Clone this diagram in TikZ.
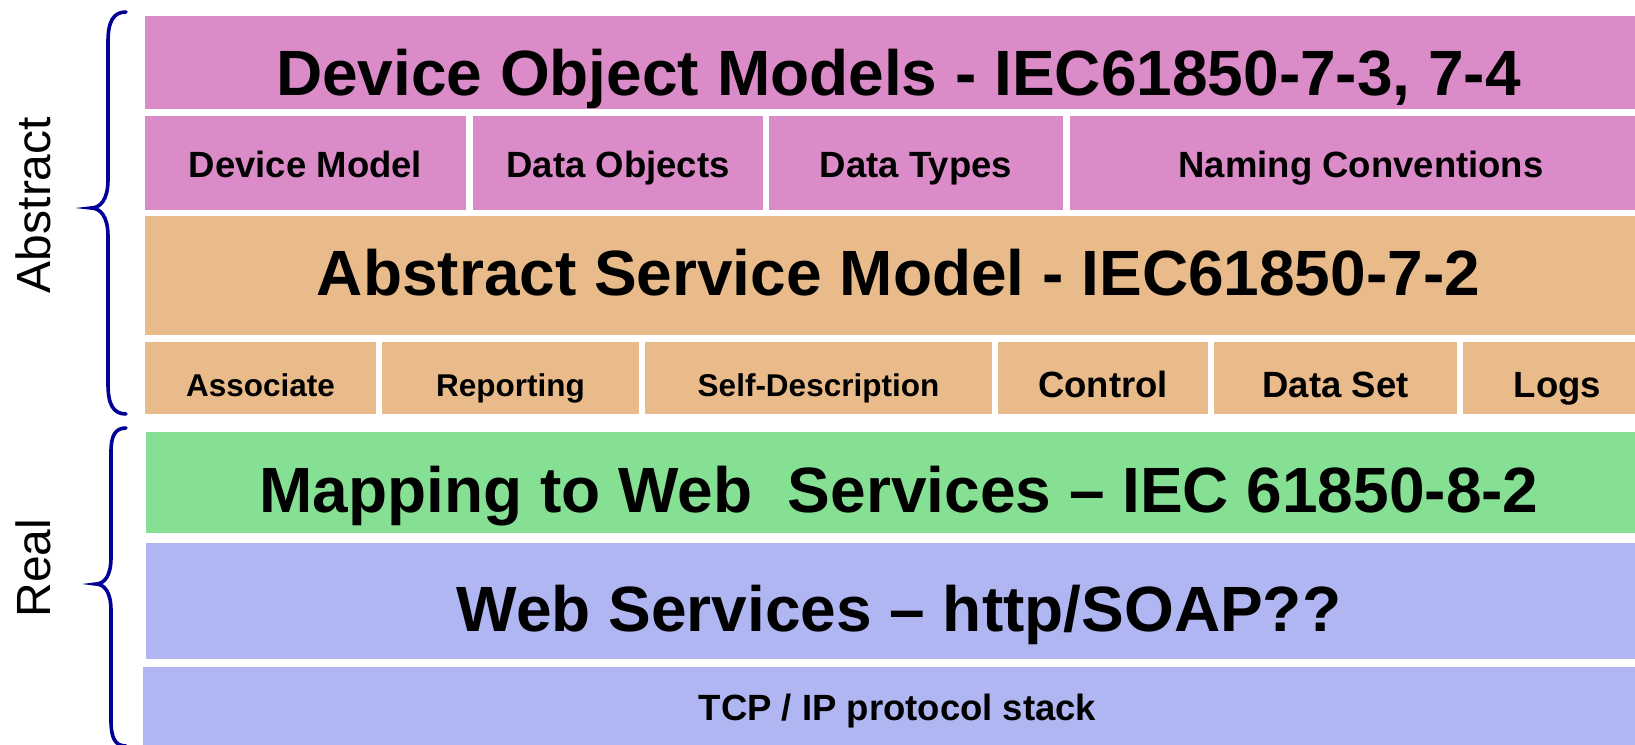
\documentclass[tikz,border=0pt]{standalone}
\usepackage{fontspec}
\setmainfont{Liberation Sans}
\definecolor{pinkc}{RGB}{219,139,200}
\definecolor{orangec}{RGB}{233,187,138}
\definecolor{greenc}{RGB}{134,224,148}
\definecolor{bluec}{RGB}{176,182,242}
\definecolor{bracec}{RGB}{0,0,150}
\begin{document}
\begin{tikzpicture}[x=1pt,y=-1pt,
  layer/.style={draw=none, inner sep=0pt, outer sep=0pt, anchor=north west},
  bigtxt/.style={anchor=base, inner sep=0pt, font=\fontsize{64}{70}\selectfont\bfseries},
  midtxt/.style={anchor=base, inner sep=0pt, font=\fontsize{36.5}{40}\selectfont\bfseries},
  smalltxt/.style={anchor=base, inner sep=0pt, font=\fontsize{31.5}{36}\selectfont\bfseries},
  sidetxt/.style={anchor=base, rotate=90, inner sep=0pt, font=\fontsize{48}{52}\selectfont},
  bracestyle/.style={draw=bracec, line width=3.6pt, line cap=round}]
\useasboundingbox (0,0) rectangle (1635,744);
\clip (0,0) rectangle (1635,744);
% layer boxes
\node[layer, fill=pinkc, minimum width=1507pt, minimum height=93pt] (dom) at (145,16) {};
\node[layer, fill=pinkc, minimum width=321pt, minimum height=94pt] (dm) at (145,116) {};
\node[layer, fill=pinkc, minimum width=290pt, minimum height=94pt] (do) at (473,116) {};
\node[layer, fill=pinkc, minimum width=294pt, minimum height=94pt] (dt) at (769,116) {};
\node[layer, fill=pinkc, minimum width=582pt, minimum height=94pt] (nc) at (1070,116) {};
\node[layer, fill=orangec, minimum width=1507pt, minimum height=119pt] (asm) at (145,216) {};
\node[layer, fill=orangec, minimum width=231pt, minimum height=72pt] (as) at (145,342) {};
\node[layer, fill=orangec, minimum width=257pt, minimum height=72pt] (rp) at (382,342) {};
\node[layer, fill=orangec, minimum width=347pt, minimum height=72pt] (sd) at (645,342) {};
\node[layer, fill=orangec, minimum width=210pt, minimum height=72pt] (ct) at (998,342) {};
\node[layer, fill=orangec, minimum width=243pt, minimum height=72pt] (ds) at (1214,342) {};
\node[layer, fill=orangec, minimum width=189pt, minimum height=72pt] (lg) at (1463,342) {};
\node[layer, fill=greenc, minimum width=1506pt, minimum height=101pt] (map) at (146,432) {};
\node[layer, fill=bluec, minimum width=1506pt, minimum height=116pt] (ws) at (146,543) {};
\node[layer, fill=bluec, minimum width=1509pt, minimum height=83pt] (tcp) at (143,667) {};
% texts
\node[bigtxt] (domt) at (dom.north |- 0,95) {Device Object Models - IEC61850-7-3, 7-4};
\node[midtxt] (dmt) at (dm.north |- 0,177) {Device Model};
\node[midtxt] (dot) at (do.north |- 0,177) {Data Objects};
\node[midtxt] (dtt) at (dt.north |- 0,177) {Data Types};
\node[midtxt] (nct) at (nc.north |- 0,177) {Naming Conventions};
\node[bigtxt] (asmt) at (asm.north |- 0,295) {Abstract Service Model - IEC61850-7-2};
\node[smalltxt] (ast) at (as.north |- 0,396) {Associate};
\node[smalltxt] (rpt) at (rp.north |- 0,396) {Reporting};
\node[smalltxt] (sdt) at (sd.north |- 0,396) {Self-Description};
\node[midtxt] (ctt) at (ct.north |- 0,397) {Control};
\node[midtxt] (dst) at (ds.north |- 0,397) {Data Set};
\node[midtxt] (lgt) at (lg.north |- 0,397) {Logs};
\node[bigtxt] (mapt) at (map.north |- 0,512) {Mapping to Web\ \ Services -- IEC 61850-8-2};
\node[bigtxt] (wst) at (ws.north |- 0,631) {Web Services -- http/SOAP??};
\node[midtxt] (tcpt) at (tcp.north |- 0,720) {TCP / IP protocol stack};
% side labels
\node[sidetxt] (abs) at (50,205) {Abstract};
\node[sidetxt] (real) at (50,568) {Real};
% braces
\draw[bracestyle] (126,12) .. controls (113,12) and (108,22) .. (108,42) -- (108,180)
  .. controls (108,200) and (100,208) .. (91,208)
  .. controls (100,208) and (108,216) .. (108,236) -- (108,384)
  .. controls (108,404) and (113,414) .. (126,414);
\draw[bracestyle] (126,428) .. controls (115,428) and (111,436) .. (111,452) -- (111,558)
  .. controls (111,576) and (104,584) .. (96,584)
  .. controls (104,584) and (111,592) .. (111,610) -- (111,720)
  .. controls (111,738) and (115,746) .. (126,746);
\end{tikzpicture}
\end{document}
